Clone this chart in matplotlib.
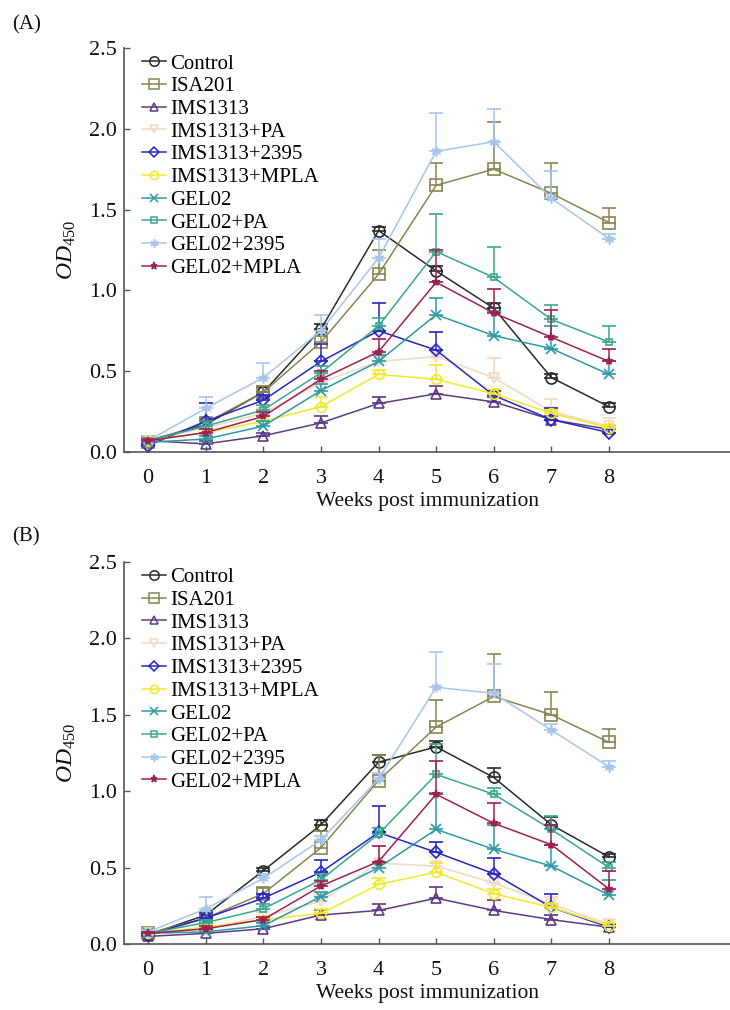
import matplotlib
matplotlib.use("Agg")
import matplotlib.pyplot as plt
from matplotlib.lines import Line2D
import numpy as np

plt.rcParams['font.family'] = ['Liberation Serif', 'DejaVu Serif']
plt.rcParams['mathtext.fontset'] = 'custom'
plt.rcParams['mathtext.rm'] = 'Liberation Serif'
plt.rcParams['mathtext.it'] = 'Liberation Serif:italic'

weeks = [0, 1, 2, 3, 4, 5, 6, 7, 8]
groups = ["Control", "ISA201", "IMS1313", "IMS1313+PA", "IMS1313+2395",
          "IMS1313+MPLA", "GEL02", "GEL02+PA", "GEL02+2395", "GEL02+MPLA"]

# Panel A means
ctrl_A = [0.07, 0.17, 0.37, 0.76, 1.37, 1.12, 0.89, 0.46, 0.28]
isa_A = [0.06, 0.18, 0.37, 0.68, 1.10, 1.65, 1.75, 1.60, 1.42]
ims_A = [0.07, 0.05, 0.10, 0.18, 0.30, 0.36, 0.31, 0.20, 0.14]
imspa_A = [0.07, 0.15, 0.24, 0.43, 0.56, 0.59, 0.46, 0.25, 0.16]
ims2395_A = [0.04, 0.19, 0.32, 0.56, 0.75, 0.63, 0.35, 0.20, 0.12]
imsmpla_A = [0.07, 0.12, 0.19, 0.28, 0.48, 0.45, 0.36, 0.24, 0.15]
gel_A = [0.06, 0.08, 0.16, 0.38, 0.56, 0.85, 0.72, 0.64, 0.48]
gelpa_A = [0.07, 0.16, 0.26, 0.49, 0.78, 1.24, 1.08, 0.82, 0.68]
gel2395_A = [0.07, 0.27, 0.46, 0.75, 1.20, 1.86, 1.92, 1.57, 1.32]
gelmpla_A = [0.07, 0.12, 0.22, 0.45, 0.62, 1.05, 0.86, 0.71, 0.56]

# Panel A upper errors
ctrl_A_err = [0.01, 0.02, 0.03, 0.03, 0.02, 0.03, 0.03, 0.02, 0.02]
isa_A_err = [0.01, 0.03, 0.04, 0.04, 0.15, 0.14, 0.29, 0.19, 0.09]
ims_A_err = [0.01, 0.02, 0.02, 0.04, 0.04, 0.05, 0.03, 0.02, 0.02]
imspa_A_err = [0.01, 0.03, 0.03, 0.05, 0.05, 0.04, 0.12, 0.08, 0.05]
ims2395_A_err = [0.01, 0.11, 0.03, 0.11, 0.17, 0.11, 0.03, 0.07, 0.02]
imsmpla_A_err = [0.01, 0.02, 0.03, 0.06, 0.03, 0.09, 0.03, 0.02, 0.02]
gel_A_err = [0.01, 0.02, 0.03, 0.04, 0.04, 0.10, 0.15, 0.14, 0.08]
gelpa_A_err = [0.01, 0.03, 0.03, 0.04, 0.05, 0.23, 0.19, 0.09, 0.10]
gel2395_A_err = [0.01, 0.07, 0.09, 0.10, 0.12, 0.24, 0.20, 0.17, 0.03]
gelmpla_A_err = [0.01, 0.02, 0.03, 0.05, 0.08, 0.20, 0.15, 0.17, 0.08]

# Panel B means
ctrl_B = [0.06, 0.19, 0.48, 0.78, 1.19, 1.29, 1.09, 0.78, 0.57]
isa_B = [0.07, 0.17, 0.33, 0.63, 1.07, 1.42, 1.62, 1.50, 1.32]
ims_B = [0.05, 0.07, 0.10, 0.19, 0.22, 0.30, 0.22, 0.16, 0.11]
imspa_B = [0.07, 0.10, 0.18, 0.28, 0.53, 0.51, 0.40, 0.26, 0.13]
ims2395_B = [0.06, 0.17, 0.30, 0.47, 0.73, 0.60, 0.46, 0.24, 0.11]
imsmpla_B = [0.07, 0.11, 0.16, 0.20, 0.39, 0.47, 0.33, 0.24, 0.12]
gel_B = [0.07, 0.08, 0.12, 0.31, 0.50, 0.75, 0.62, 0.51, 0.32]
gelpa_B = [0.07, 0.14, 0.23, 0.42, 0.72, 1.11, 0.98, 0.75, 0.50]
gel2395_B = [0.08, 0.23, 0.43, 0.68, 1.08, 1.68, 1.64, 1.40, 1.16]
gelmpla_B = [0.07, 0.10, 0.16, 0.38, 0.54, 0.98, 0.79, 0.65, 0.36]

# Panel B upper errors
ctrl_B_err = [0.01, 0.02, 0.02, 0.03, 0.05, 0.04, 0.06, 0.05, 0.02]
isa_B_err = [0.01, 0.03, 0.04, 0.11, 0.17, 0.18, 0.28, 0.15, 0.09]
ims_B_err = [0.01, 0.02, 0.02, 0.03, 0.04, 0.07, 0.07, 0.03, 0.02]
imspa_B_err = [0.01, 0.02, 0.03, 0.04, 0.11, 0.06, 0.07, 0.05, 0.03]
ims2395_B_err = [0.01, 0.03, 0.03, 0.08, 0.17, 0.07, 0.10, 0.09, 0.02]
imsmpla_B_err = [0.01, 0.02, 0.02, 0.03, 0.04, 0.06, 0.03, 0.02, 0.02]
gel_B_err = [0.01, 0.02, 0.02, 0.03, 0.04, 0.24, 0.16, 0.14, 0.10]
gelpa_B_err = [0.01, 0.02, 0.03, 0.04, 0.04, 0.20, 0.04, 0.09, 0.04]
gel2395_B_err = [0.01, 0.08, 0.03, 0.03, 0.04, 0.23, 0.19, 0.04, 0.04]
gelmpla_B_err = [0.01, 0.02, 0.02, 0.03, 0.10, 0.22, 0.13, 0.13, 0.12]

colors = ['#2a2a2a', '#8a8452', '#5e3a86', '#f3d8c2', '#2626c8',
          '#f0ea2a', '#2d9aa6', '#3aa88e', '#a6c6ec', '#a02052']
markers = ['o', 's', '^', 'v', 'D', 'o', 'x', 's', (6, 2, 0), '*']
msizes = [8, 8, 7, 7, 6, 7, 7, 5, 7, 6]
fills = ['none', 'none', 'none', 'none', 'none', 'none', 'full', 'none', 'full', 'full']

data_A = [ctrl_A, isa_A, ims_A, imspa_A, ims2395_A, imsmpla_A, gel_A, gelpa_A, gel2395_A, gelmpla_A]
err_A = [ctrl_A_err, isa_A_err, ims_A_err, imspa_A_err, ims2395_A_err, imsmpla_A_err,
         gel_A_err, gelpa_A_err, gel2395_A_err, gelmpla_A_err]
data_B = [ctrl_B, isa_B, ims_B, imspa_B, ims2395_B, imsmpla_B, gel_B, gelpa_B, gel2395_B, gelmpla_B]
err_B = [ctrl_B_err, isa_B_err, ims_B_err, imspa_B_err, ims2395_B_err, imsmpla_B_err,
         gel_B_err, gelpa_B_err, gel2395_B_err, gelmpla_B_err]

fig = plt.figure(figsize=(7.3, 10.1), dpi=100)
axA = fig.add_axes([0.170, 0.5525, 0.830, 0.400])
axB = fig.add_axes([0.170, 0.0653, 0.830, 0.3783])

for ax, data, errs, lab, ly in [(axA, data_A, err_A, '(A)', 0.975), (axB, data_B, err_B, '(B)', 0.468)]:
    handles = []
    for i, g in enumerate(groups):
        lower = np.zeros(len(weeks))
        ax.errorbar(weeks, data[i], yerr=[lower, errs[i]], color=colors[i],
                    marker=markers[i], markersize=msizes[i], fillstyle=fills[i],
                    markeredgewidth=1.2, linewidth=1.1, elinewidth=1.1,
                    capsize=5, capthick=1.1, zorder=2 + i * 0.1)
        handles.append(Line2D([], [], color=colors[i], marker=markers[i],
                              markersize=msizes[i] * 0.85, fillstyle=fills[i],
                              markeredgewidth=1.1, linewidth=1.1, label=g))
    ax.set_xlim(-0.4165, 10.1)
    ax.set_ylim(0, 2.5)
    ax.set_xticks(weeks)
    ax.set_yticks([0.0, 0.5, 1.0, 1.5, 2.0, 2.5])
    ax.set_yticklabels(['0.0', '0.5', '1.0', '1.5', '2.0', '2.5'])
    for s in ['top', 'right']:
        ax.spines[s].set_visible(False)
    for s in ['left', 'bottom']:
        ax.spines[s].set_color('#555555')
        ax.spines[s].set_linewidth(1.2)
    ax.tick_params(axis='x', direction='in', length=4, width=1, colors='#555555',
                   labelcolor='#111111', labelsize=16, pad=12)
    ax.tick_params(axis='y', direction='in', length=4, width=1, colors='#555555',
                   labelcolor='#111111', labelsize=16, pad=5)
    ax.set_xlabel('Weeks post immunization', fontsize=15.5, color='#111111', labelpad=3)
    ax.set_ylabel(r'$\mathit{OD}_{\mathrm{450}}$', fontsize=17, color='#111111')
    ax.yaxis.set_label_coords(-0.076, 0.5)
    ax.legend(handles=handles, loc='upper left', bbox_to_anchor=(0.03, 0.985), frameon=False,
              fontsize=15, handlelength=1.15, handletextpad=0.2, labelspacing=0.15,
              borderpad=0, borderaxespad=0)
    fig.text(0.017, ly, lab, fontsize=15, color='#111111', ha='left', va='center')

fig.savefig('out.png', dpi=100)
